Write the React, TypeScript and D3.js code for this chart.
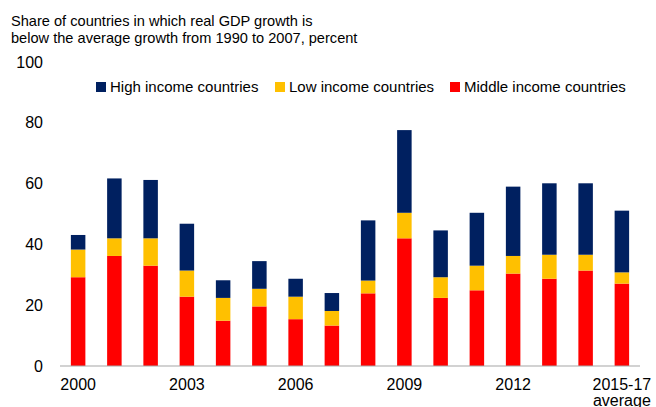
import { useMemo } from 'react';
import * as d3 from 'd3';

// Data
const categories = [
  '2000', '2001', '2002', '2003', '2004', '2005', '2006', '2007',
  '2008', '2009', '2010', '2011', '2012', '2013', '2014', '2015-17 average',
];
const tickLabels = ['2000', '2003', '2006', '2009', '2012', '2015-17 average'];

const middleIncome = [29.2, 36.2, 33.0, 22.8, 14.9, 19.6, 15.4, 13.3, 23.9, 42.0, 22.4, 24.9, 30.4, 28.7, 31.4, 27.1];
const lowIncome = [9.1, 5.8, 9.0, 8.6, 7.5, 5.8, 7.4, 4.8, 4.2, 8.4, 6.8, 8.1, 5.8, 7.9, 5.2, 3.7];
const highIncome = [4.8, 19.7, 19.2, 15.4, 5.8, 9.1, 5.9, 5.9, 19.8, 27.2, 15.4, 17.4, 22.8, 23.5, 23.5, 20.3];

const yTicks = [0, 20, 40, 60, 80, 100];

const series = [
  { key: 'middle', label: 'Middle income countries', values: middleIncome, color: '#ff0000' },
  { key: 'low', label: 'Low income countries', values: lowIncome, color: '#ffc000' },
  { key: 'high', label: 'High income countries', values: highIncome, color: '#002060' },
];
const legendOrder = ['high', 'low', 'middle'];
const legendX = [96, 275, 450];

const WIDTH = 656;
const HEIGHT = 407;
const PLOT = { left: 60, right: 640, top: 62, bottom: 366 };
const FONT = 'Liberation Sans, Arial, sans-serif';

export default function App() {
  const x = useMemo(
    () => d3.scaleBand<string>().domain(categories).range([PLOT.left, PLOT.right]).paddingInner(0.6).paddingOuter(0.3),
    []
  );
  const y = useMemo(() => d3.scaleLinear().domain([0, 100]).range([PLOT.bottom, PLOT.top]), []);

  const stacked = useMemo(() => {
    const rows = categories.map((c, i) => {
      const r: Record<string, number | string> = { cat: c };
      series.forEach((s) => (r[s.key] = s.values[i]));
      return r;
    });
    return d3.stack<any>().keys(series.map((s) => s.key))(rows);
  }, []);

  return (
    <svg
      width={WIDTH}
      height={HEIGHT}
      style={{ position: 'absolute', left: 0, top: 0, background: '#fff' }}
      fontFamily={FONT}
    >
      {/* Title */}
      <text x={11} y={26} fontSize={14.6} fill="#000">Share of countries in which real GDP growth is</text>
      <text x={11} y={43} fontSize={14.6} fill="#000">below the average growth from 1990 to 2007, percent</text>

      {/* Y tick labels */}
      {yTicks.map((t) => (
        <text key={t} x={43} y={y(t) + 5.5} textAnchor="end" fontSize={16} fill="#000">
          {t}
        </text>
      ))}

      {/* Bars */}
      {stacked.map((layer, li) => (
        <g key={layer.key} fill={series[li].color}>
          {layer.map((d, i) => (
            <rect
              key={i}
              x={x(categories[i])!}
              width={x.bandwidth()}
              y={y(d[1])}
              height={y(d[0]) - y(d[1])}
            />
          ))}
        </g>
      ))}

      {/* Baseline */}
      <line x1={PLOT.left} x2={PLOT.right} y1={y(0)} y2={y(0)} stroke="#a6a6a6" strokeWidth={1.2} />

      {/* X labels */}
      {tickLabels.map((lab) => {
        const cx = x(lab)! + x.bandwidth() / 2;
        const parts = lab === '2015-17 average' ? ['2015-17', 'average'] : [lab];
        return (
          <text key={lab} x={cx} y={390} textAnchor="middle" fontSize={16} fill="#000">
            {parts.map((p, k) => (
              <tspan key={k} x={cx} dy={k === 0 ? 0 : 16}>{p}</tspan>
            ))}
          </text>
        );
      })}

      {/* Legend */}
      {legendOrder.map((k, i) => {
        const s = series.find((d) => d.key === k)!;
        return (
          <g key={k}>
            <rect x={legendX[i]} y={82} width={10} height={10} fill={s.color} />
            <text x={legendX[i] + 14} y={92} fontSize={15} fill="#000">{s.label}</text>
          </g>
        );
      })}
    </svg>
  );
}
